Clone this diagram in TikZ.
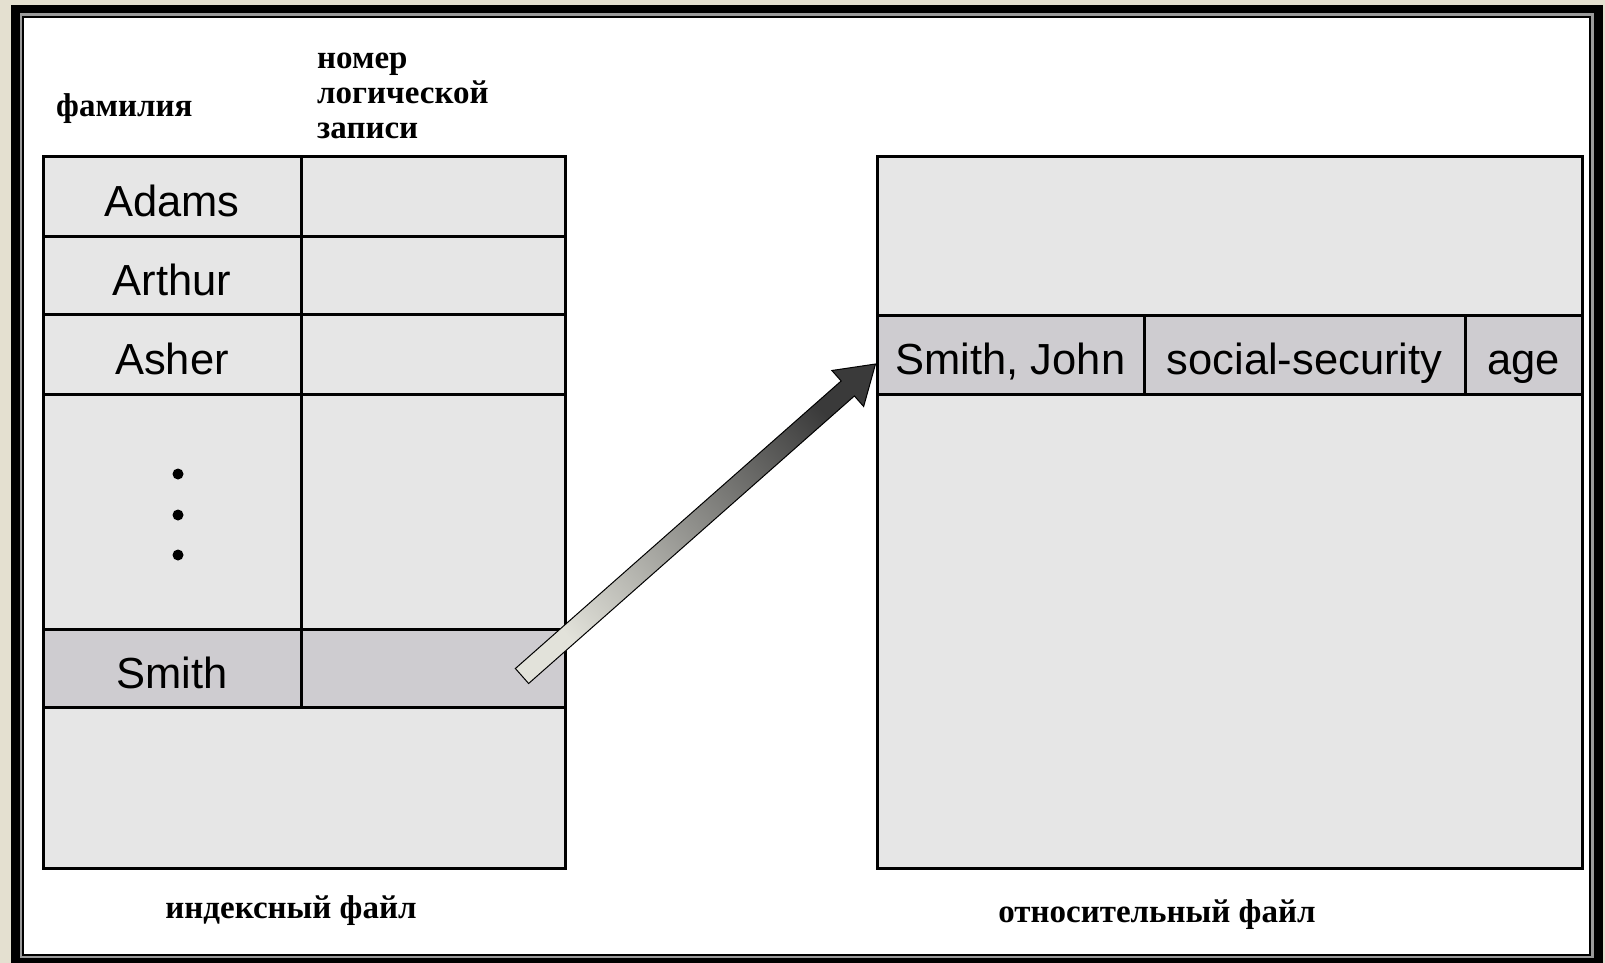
\documentclass[tikz,border=0pt]{standalone}
\usepackage{fontspec}
\setmainfont{Liberation Serif}
\setsansfont{Liberation Sans}
\usetikzlibrary{calc}
\definecolor{beige}{HTML}{E4E0D0}
\definecolor{cellfill}{HTML}{E6E6E6}
\definecolor{hifill}{HTML}{CECCD0}
\definecolor{framegray}{HTML}{9A9A9A}
\definecolor{arrowdark}{HTML}{3A3A3A}
\definecolor{arrowlight}{HTML}{E2E2DA}
\begin{document}
\begin{tikzpicture}[x=1pt,y=-1pt,
  cell/.style={draw=black, line width=3pt, fill=cellfill, inner sep=0pt,
    text height=40pt, text depth=0pt, font=\sffamily\fontsize{43.5}{50}\selectfont},
  hicell/.style={cell, fill=hifill},
  lbl/.style={font=\bfseries\fontsize{33}{36}\selectfont, inner sep=0pt},
  dot/.style={fill=black}]
\useasboundingbox (0,0) rectangle (1605,963);
% frame
\fill[beige] (0,0) rectangle (1605,963);
\fill[black] (11,5) rectangle (1603,963);
\fill[framegray] (20,13) rectangle (1594,958);
\filldraw[fill=white, draw=black, line width=2pt] (23,17) rectangle (1590,955);

% index file (left)
\node[cell, minimum width=258, minimum height=80] (adams)  at (172,196) {Adams};
\node[cell, minimum width=264, minimum height=80] (adamsR) at (433,196) {};
\node[cell, minimum width=258, minimum height=78] (arthur) at (172,275) {Arthur};
\node[cell, minimum width=264, minimum height=78] (arthurR) at (433,275) {};
\node[cell, minimum width=258, minimum height=80] (asher)  at (172,354) {Asher};
\node[cell, minimum width=264, minimum height=80] (asherR) at (433,354) {};
\node[cell, minimum width=258, minimum height=235] (dots)  at (172,511.5) {};
\node[cell, minimum width=264, minimum height=235] (dotsR) at (433,511.5) {};
\node[hicell, minimum width=258, minimum height=78] (smith)  at (172,668) {Smith};
\node[hicell, minimum width=264, minimum height=78] (smithR) at (433,668) {};
\node[cell, minimum width=522, minimum height=161] (rest) at (304,787.5) {};
\fill[dot] (178,474) circle (5.5);
\fill[dot] (178,515) circle (5.5);
\fill[dot] (178,555) circle (5.5);

% relative file (right)
\node[cell, minimum width=705, minimum height=159] (rtop) at (1229.5,235.5) {};
\node[hicell, minimum width=267, minimum height=79] (sj)  at (1010.5,354.5) {Smith, John};
\node[hicell, minimum width=321, minimum height=79] (ss)  at (1304.5,354.5) {social-security};
\node[hicell, minimum width=117, minimum height=79] (age) at (1523.5,354.5) {age};
\node[cell, minimum width=705, minimum height=474] (rbot) at (1229.5,631) {};

% labels
\node[lbl, anchor=base west] (fam) at (56,117) {фамилия};
\node[lbl, anchor=base west] (num1) at (317,69) {номер};
\node[lbl, anchor=base west] (num2) at (317,104) {логической};
\node[lbl, anchor=base west] (num3) at (317,139) {записи};
\node[lbl, anchor=base] (idx) at (291,918) {индексный файл};
\node[lbl, anchor=base] (rel) at (1157,922) {относительный файл};

% arrow
\coordinate (tail) at ($(smithR.center)+(89,8)$);
\coordinate (tip) at ($(sj.west)+(0,9.5)$);
\coordinate (neck) at ($(tip)!37pt!(tail)$);
\shadedraw[draw=black, line width=1pt, top color=arrowdark, bottom color=arrowlight, shading angle=-48.7]
  ($(tail)!10pt!90:(tip)$) -- ($(neck)!10pt!90:(tip)$) -- ($(neck)!24pt!90:(tip)$)
  -- (tip) -- ($(neck)!24pt!-90:(tip)$) -- ($(neck)!10pt!-90:(tip)$)
  -- ($(tail)!10pt!-90:(tip)$) -- cycle;
\end{tikzpicture}
\end{document}
